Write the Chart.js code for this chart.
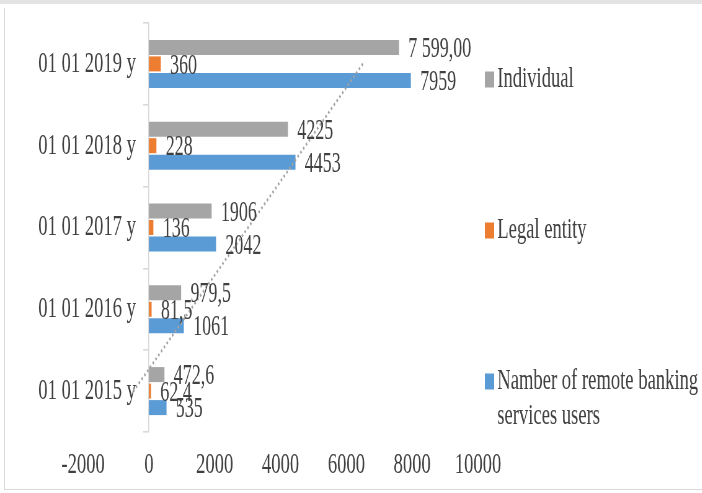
<!DOCTYPE html>
<html>
<head>
<meta charset="utf-8">
<script src="https://cdn.jsdelivr.net/npm/chart.js@4.4.0/dist/chart.umd.min.js"></script>
<style>
  html, body { margin: 0; padding: 0; background: #fff; overflow: hidden; }
  #topband { position: absolute; left: 0; top: 0; width: 702px; height: 4px; background: #e3e3e3; }
  #frame { position: absolute; left: 4px; top: 8px; width: 720px; height: 481px;
           border-left: 1px solid #d9d9d9; border-bottom: 1px solid #d9d9d9; }
  /* the original picture is squeezed sideways, so the canvas is drawn wide and narrowed */
  #chart { position: absolute; left: 0; top: 0; transform: scaleX(0.62); transform-origin: 0 0; }
</style>
</head>
<body>
<div id="topband"></div>
<div id="frame"></div>
<canvas id="chart" width="1132" height="493"></canvas>
<script>
const categories = ['01 01 2019 y', '01 01 2018 y', '01 01 2017 y', '01 01 2016 y', '01 01 2015 y'];
const seriesNames = ['Individual', 'Legal entity', 'Namber of remote banking\nservices users'];
const individual = [7599, 4225, 1906, 979.5, 472.6];
const legalEntity = [360, 228, 136, 81.5, 62.4];
const remoteUsers = [7959, 4453, 2042, 1061, 535];
const individualLabels = ['7 599,00', '4225', '1906', '979,5', '472,6'];
const legalEntityLabels = ['360', '228', '136', '81,5', '62,4'];
const remoteUsersLabels = ['7959', '4453', '2042', '1061', '535'];
const trendline = [6500, null, null, null, -470];
const xTickLabels = ['-2000', '0', '2000', '4000', '6000', '8000', '10000'];

const textColor = '#404040';
const fontFamily = "'Liberation Serif', 'Times New Roman', serif";
const colors = ['#a5a5a5', '#ed7d31', '#5b9bd5'];

const categoryLabels = {
    id: 'categoryLabels',
    beforeDatasetsDraw(chart) {
        const { ctx, scales: { x, y } } = chart;
        const right = x.getPixelForValue(0) - 21;
        ctx.save();
        ctx.font = '30px ' + fontFamily;
        ctx.fillStyle = textColor;
        ctx.textAlign = 'right';
        ctx.textBaseline = 'middle';
        categories.forEach((c, i) => ctx.fillText(c, right, y.getPixelForTick(i)));
        ctx.restore();
    }
};

const valueLabels = {
    id: 'valueLabels',
    afterDatasetsDraw(chart) {
        const { ctx } = chart;
        ctx.save();
        ctx.font = '29px ' + fontFamily;
        ctx.fillStyle = textColor;
        ctx.textAlign = 'left';
        ctx.textBaseline = 'middle';
        [individualLabels, legalEntityLabels, remoteUsersLabels].forEach((texts, d) => {
            chart.getDatasetMeta(d).data.forEach((bar, i) => {
                ctx.fillText(texts[i], bar.x + 15, bar.y + 2);
            });
        });
        ctx.restore();
    }
};

const sideLegend = {
    id: 'sideLegend',
    afterDraw(chart) {
        const { ctx, chartArea } = chart;
        const mid = (chartArea.top + chartArea.bottom) / 2 + 3;
        ctx.save();
        ctx.font = '30px ' + fontFamily;
        ctx.textAlign = 'left';
        ctx.textBaseline = 'middle';
        seriesNames.forEach((name, i) => {
            const cy = mid + (i - 1) * 151;
            ctx.fillStyle = colors[i];
            ctx.fillRect(chartArea.right + 11, cy - 8, 15, 16);
            ctx.fillStyle = textColor;
            name.split('\n').forEach((line, k) => {
                ctx.fillText(line, chartArea.right + 31, cy + k * 35);
            });
        });
        ctx.restore();
    }
};

new Chart(document.getElementById('chart'), {
    type: 'bar',
    data: {
        labels: categories,
        datasets: [
            { label: seriesNames[0], data: individual, backgroundColor: colors[0] },
            { label: seriesNames[1], data: legalEntity, backgroundColor: colors[1] },
            { label: seriesNames[2], data: remoteUsers, backgroundColor: colors[2] },
            {
                type: 'line',
                label: 'Trend',
                data: trendline,
                indexAxis: 'y',
                spanGaps: true,
                borderColor: '#a3a3a3',
                borderWidth: 2.8,
                borderDash: [2.5, 3.5],
                pointRadius: 0,
                fill: false,
                order: -1
            }
        ]
    },
    options: {
        indexAxis: 'y',
        responsive: false,
        animation: false,
        devicePixelRatio: 1,
        datasets: {
            bar: { categoryPercentage: 0.605, barPercentage: 0.91 }
        },
        layout: { padding: { left: 134, right: 361, top: 23, bottom: 9 } },
        scales: {
            x: {
                min: -2000,
                max: 10000,
                grid: { display: false, drawTicks: false },
                border: { display: false },
                ticks: {
                    stepSize: 2000,
                    padding: 15,
                    color: textColor,
                    font: { family: fontFamily, size: 30 },
                    callback: (v, i) => xTickLabels[i]
                },
                afterFit: s => { s.height = 52; }
            },
            y: {
                position: { x: 0 },
                grid: { drawOnChartArea: false, drawTicks: true, tickLength: 8, color: '#d9d9d9', lineWidth: 1.6 },
                border: { display: true, color: '#d9d9d9', width: 1.6 },
                ticks: { display: false }
            }
        },
        plugins: {
            legend: { display: false },
            tooltip: { enabled: false }
        }
    },
    plugins: [categoryLabels, valueLabels, sideLegend]
});
</script>
</body>
</html>
